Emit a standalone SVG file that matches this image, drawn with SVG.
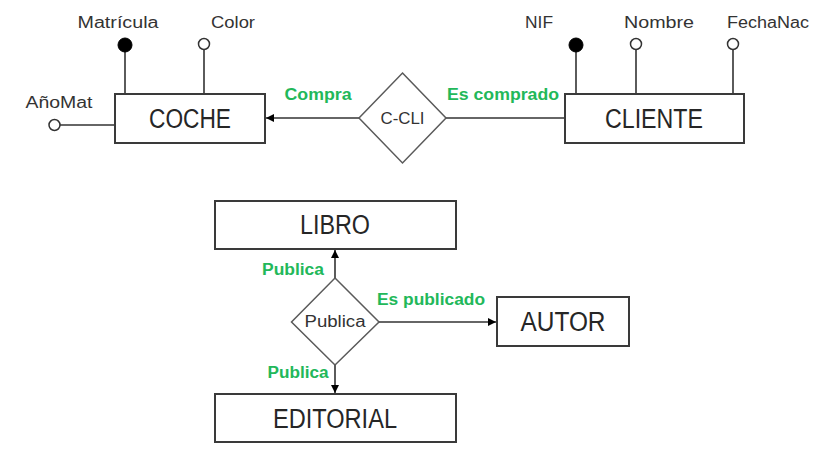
<svg xmlns="http://www.w3.org/2000/svg" width="818" height="460" viewBox="0 0 818 460">
<style>
.ent{fill:#fff;stroke:#3a3a3a;stroke-width:2}
.rel{fill:#fff;stroke:#5a5a5a;stroke-width:1.5}
.ln{stroke:#333;stroke-width:1.6;fill:none}
.ename{font-family:"Liberation Sans",Arial,sans-serif;font-size:27px;fill:#262626;text-anchor:middle}
.rname{font-family:"Liberation Sans",Arial,sans-serif;font-size:16px;fill:#333;text-anchor:middle}
.attr{font-family:"Liberation Sans",Arial,sans-serif;font-size:16px;fill:#333;text-anchor:middle}
.role{font-family:"Liberation Sans",Arial,sans-serif;font-size:16px;font-weight:bold;fill:#22b85a;text-anchor:middle}
.key{fill:#000;stroke:#000;stroke-width:1}
.opt{fill:#fff;stroke:#333;stroke-width:1.5}
</style>
<defs>
<marker id="arr" viewBox="0 0 10 10" refX="10" refY="5" markerWidth="10" markerHeight="8" markerUnits="userSpaceOnUse" orient="auto">
<path d="M0,0 L10,5 L0,10 z" fill="#000"/>
</marker>
</defs>
<rect width="818" height="460" fill="#fff"/>
<g id="connectors">
<line class="ln" x1="359" y1="118" x2="266" y2="118" marker-end="url(#arr)"/>
<line class="ln" x1="446" y1="118" x2="565" y2="118"/>
<line class="ln" x1="335" y1="278" x2="335" y2="250" marker-end="url(#arr)"/>
<line class="ln" x1="379" y1="322" x2="496" y2="322" marker-end="url(#arr)"/>
<line class="ln" x1="335" y1="365" x2="335" y2="393" marker-end="url(#arr)"/>
<text class="role" x="318" y="100" textLength="67" lengthAdjust="spacingAndGlyphs">Compra</text>
<text class="role" x="503" y="100" textLength="112" lengthAdjust="spacingAndGlyphs">Es comprado</text>
<text class="role" x="293" y="275" textLength="62" lengthAdjust="spacingAndGlyphs">Publica</text>
<text class="role" x="431" y="305" textLength="108" lengthAdjust="spacingAndGlyphs">Es publicado</text>
<text class="role" x="298" y="378" textLength="61" lengthAdjust="spacingAndGlyphs">Publica</text>
</g>
<g id="coche">
<line class="ln" x1="125" y1="45" x2="125" y2="94"/>
<circle class="key" cx="125" cy="45" r="7"/>
<text class="attr" x="118" y="28" textLength="81" lengthAdjust="spacingAndGlyphs">Matrícula</text>
<line class="ln" x1="204" y1="50" x2="204" y2="94"/>
<circle class="opt" cx="204" cy="44" r="5.5"/>
<text class="attr" x="233" y="28" textLength="44" lengthAdjust="spacingAndGlyphs">Color</text>
<line class="ln" x1="60" y1="125" x2="115" y2="125"/>
<circle class="opt" cx="54.5" cy="125" r="5.5"/>
<text class="attr" x="59" y="108" textLength="67" lengthAdjust="spacingAndGlyphs">AñoMat</text>
<rect class="ent" x="115" y="94" width="150" height="49"/>
<text class="ename" x="190" y="128" textLength="82" lengthAdjust="spacingAndGlyphs">COCHE</text>
</g>
<g id="c-cli">
<polygon class="rel" points="402.5,73 446,118 402.5,163 359,118"/>
<text class="rname" x="402.5" y="124" textLength="44" lengthAdjust="spacingAndGlyphs">C-CLI</text>
</g>
<g id="cliente">
<line class="ln" x1="576" y1="45" x2="576" y2="94"/>
<circle class="key" cx="576" cy="45" r="7"/>
<text class="attr" x="539" y="28" textLength="28" lengthAdjust="spacingAndGlyphs">NIF</text>
<line class="ln" x1="636" y1="50" x2="636" y2="94"/>
<circle class="opt" cx="636" cy="44" r="5.5"/>
<text class="attr" x="659" y="28" textLength="70" lengthAdjust="spacingAndGlyphs">Nombre</text>
<line class="ln" x1="733" y1="50" x2="733" y2="94"/>
<circle class="opt" cx="733" cy="44" r="5.5"/>
<text class="attr" x="768" y="28" textLength="82" lengthAdjust="spacingAndGlyphs">FechaNac</text>
<rect class="ent" x="565" y="94" width="179" height="49"/>
<text class="ename" x="654" y="128" textLength="98" lengthAdjust="spacingAndGlyphs">CLIENTE</text>
</g>
<g id="libro">
<rect class="ent" x="215" y="201" width="241" height="48"/>
<text class="ename" x="335" y="234" textLength="70" lengthAdjust="spacingAndGlyphs">LIBRO</text>
</g>
<g id="publica">
<polygon class="rel" points="335,278 379,322 335,365 291.5,322"/>
<text class="rname" x="335" y="327" textLength="61" lengthAdjust="spacingAndGlyphs">Publica</text>
</g>
<g id="autor">
<rect class="ent" x="497" y="297" width="132" height="49"/>
<text class="ename" x="563" y="331" textLength="85" lengthAdjust="spacingAndGlyphs">AUTOR</text>
</g>
<g id="editorial">
<rect class="ent" x="215" y="394" width="241" height="48"/>
<text class="ename" x="335" y="428" textLength="124" lengthAdjust="spacingAndGlyphs">EDITORIAL</text>
</g>
</svg>
